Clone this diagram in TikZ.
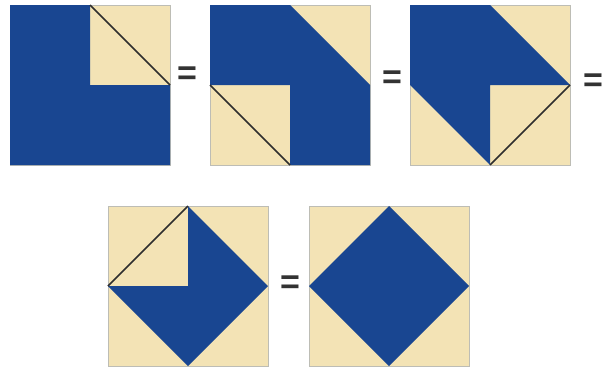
\documentclass[tikz,border=0pt]{standalone}
\usepackage{fontspec}
\setmainfont{Liberation Sans}
\definecolor{qblue}{HTML}{194691}
\definecolor{qcream}{HTML}{F3E3B5}
\definecolor{qedge}{HTML}{BDBDB5}
\definecolor{qeq}{HTML}{333333}
\tikzset{
  cream/.style={fill=qcream, draw=qedge, line width=0.9pt},
  blue/.style={fill=qblue, draw=none},
  fold/.style={draw=qeq!90!black, line width=1.5pt},
  eqsign/.style={text=qeq, font=\fontsize{34}{34}\selectfont\bfseries, inner sep=0pt}
}
\begin{document}
\begin{tikzpicture}[x=1pt,y=-1pt]
\useasboundingbox (0,0) rectangle (602,370);
% square 1
\path[cream] (10,5) rectangle (170,165);
\path[blue] (10,5) -- (90,5) -- (90,85) -- (170,85) -- (170,165) -- (10,165) -- cycle;
\coordinate (s1a) at (90,5); \coordinate (s1b) at (170,85);
\draw[fold] (s1a) -- (s1b);
\node[eqsign] (e1) at (187,76) {=};
% square 2
\path[cream] (210,5) rectangle (370,165);
\path[blue] (210,5) -- (290,5) -- (370,85) -- (370,165) -- (290,165) -- (290,85) -- (210,85) -- cycle;
\coordinate (s2a) at (210,85); \coordinate (s2b) at (290,165);
\draw[fold] (s2a) -- (s2b);
\node[eqsign] (e2) at (392,80) {=};
% square 3
\path[cream] (410,5) rectangle (570,165);
\path[blue] (410,5) -- (490,5) -- (570,85) -- (490,85) -- (490,165) -- (410,85) -- cycle;
\coordinate (s3a) at (490,165); \coordinate (s3b) at (570,85);
\draw[fold] (s3a) -- (s3b);
\node[eqsign] (e3) at (593,83) {=};
% square 4
\path[cream] (108,206) rectangle (268,366);
\path[blue] (188,206) -- (268,286) -- (188,366) -- (108,286) -- (188,286) -- cycle;
\coordinate (s4a) at (108,286); \coordinate (s4b) at (188,206);
\draw[fold] (s4a) -- (s4b);
\node[eqsign] (e4) at (290,285) {=};
% square 5
\path[cream] (309,206) rectangle (469,366);
\path[blue] (389,206) -- (469,286) -- (389,366) -- (309,286) -- cycle;
\end{tikzpicture}
\end{document}
